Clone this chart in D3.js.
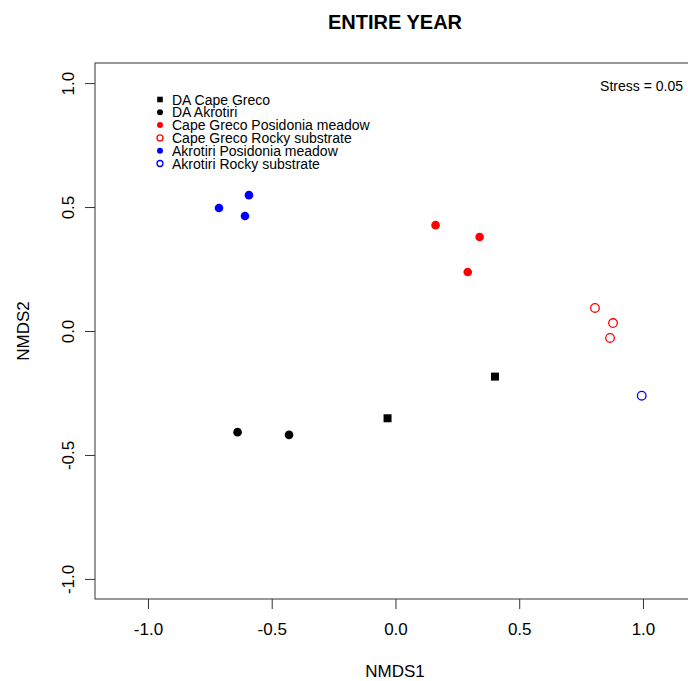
<!DOCTYPE html>
<html lang="en">
  <head>
    <meta charset="utf-8">
    <script src="https://d3js.org/d3.v7.min.js"></script>
    <style>
      body { margin: 0; background: #fff; }
      text { font-family: "Liberation Sans", Arial, sans-serif; fill: #000; }
    </style>
  </head>
  <body>
    <svg width="688" height="681"></svg>
    <script>
      // group names, legend order
      var groups = ["DA Cape Greco", "DA Akrotiri", "Cape Greco Posidonia meadow",
                    "Cape Greco Rocky substrate", "Akrotiri Posidonia meadow", "Akrotiri Rocky substrate"];
      var groupColor = ["black", "black", "red", "red", "blue", "blue"];
      var groupShape = ["square", "circle", "circle", "open", "circle", "open"];

      // NMDS scores per sample (group index, NMDS1, NMDS2)
      var sampleGroup = [0, 0, 1, 1, 2, 2, 2, 3, 3, 3, 4, 4, 4, 5];
      var nmds1 = [0.402, -0.032, -0.638, -0.430, 0.162, 0.340, 0.292, 0.806, 0.879, 0.867, -0.713, -0.608, -0.592, 0.995];
      var nmds2 = [-0.184, -0.352, -0.408, -0.419, 0.427, 0.379, 0.238, 0.093, 0.032, -0.028, 0.496, 0.464, 0.548, -0.261];

      var ticks = [-1.0, -0.5, 0.0, 0.5, 1.0];

      var svg = d3.select("svg");
      var mLeft = 95, mTop = 63, mRight = 690, mBottom = 599;

      var x = d3.scaleLinear().domain([-1.214, 1.19]).range([mLeft, mRight]);
      var y = d3.scaleLinear().domain([-1.081, 1.081]).range([mBottom, mTop]);

      // R style labels with a plain hyphen
      var fmt = function (d) { return d.toFixed(1); };

      //title
      svg.append("text")
        .attr("x", 395).attr("y", 29)
        .attr("text-anchor", "middle")
        .attr("font-size", "20px").attr("font-weight", "bold")
        .text("ENTIRE YEAR");

      //plot box
      svg.append("rect")
        .attr("x", mLeft).attr("y", mTop)
        .attr("width", mRight - mLeft).attr("height", mBottom - mTop)
        .attr("fill", "none").attr("stroke", "#333").attr("stroke-width", 1);

      //bottom axis
      var xAxis = svg.append("g")
        .attr("transform", "translate(0," + mBottom + ")")
        .call(d3.axisBottom(x).tickValues(ticks).tickSize(10).tickPadding(14).tickFormat(fmt));
      xAxis.select(".domain").remove();
      xAxis.selectAll("text").attr("font-size", "17px").attr("font-family", null);
      xAxis.selectAll("line").attr("stroke", "#333");

      //left axis, rotated labels like R
      var yAxis = svg.append("g")
        .attr("transform", "translate(" + mLeft + ",0)")
        .call(d3.axisLeft(y).tickValues(ticks).tickSize(10).tickFormat(fmt));
      yAxis.select(".domain").remove();
      yAxis.selectAll("line").attr("stroke", "#333");
      yAxis.selectAll("text")
        .attr("font-size", "17px").attr("font-family", null)
        .attr("text-anchor", "middle")
        .attr("x", 0).attr("y", 0).attr("dy", 0)
        .attr("transform", "translate(-21,0) rotate(-90)");

      //axis titles
      svg.append("text")
        .attr("x", 395).attr("y", 677)
        .attr("text-anchor", "middle").attr("font-size", "17px")
        .text("NMDS1");
      svg.append("text")
        .attr("transform", "translate(29,331) rotate(-90)")
        .attr("text-anchor", "middle").attr("font-size", "17px")
        .text("NMDS2");

      //stress
      svg.append("text")
        .attr("x", 683).attr("y", 91)
        .attr("text-anchor", "end").attr("font-size", "14px")
        .text("Stress = 0.05");

      function drawMarker(g, shape, color, cx, cy, r) {
        if (shape == "square") {
          g.append("rect")
            .attr("x", cx - r).attr("y", cy - r)
            .attr("width", 2 * r).attr("height", 2 * r)
            .attr("fill", color);
        } else if (shape == "open") {
          g.append("circle")
            .attr("cx", cx).attr("cy", cy).attr("r", r)
            .attr("fill", "none").attr("stroke", color).attr("stroke-width", 1.3);
        } else {
          g.append("circle")
            .attr("cx", cx).attr("cy", cy).attr("r", r)
            .attr("fill", color);
        }
      }

      //points
      var pts = svg.append("g");
      sampleGroup.forEach(function (gi, i) {
        var r = groupShape[gi] == "square" ? 4 : 4.3;
        drawMarker(pts, groupShape[gi], groupColor[gi], x(nmds1[i]), y(nmds2[i]), r);
      });

      //legend
      var leg = svg.append("g");
      groups.forEach(function (name, i) {
        var ly = 99.5 + i * 12.8;
        drawMarker(leg, groupShape[i], groupColor[i], 160, ly, groupShape[i] == "square" ? 2.8 : 3);
        leg.append("text")
          .attr("x", 172).attr("y", ly + 5)
          .attr("font-size", "14px")
          .text(name);
      });
    </script>
  </body>
</html>
